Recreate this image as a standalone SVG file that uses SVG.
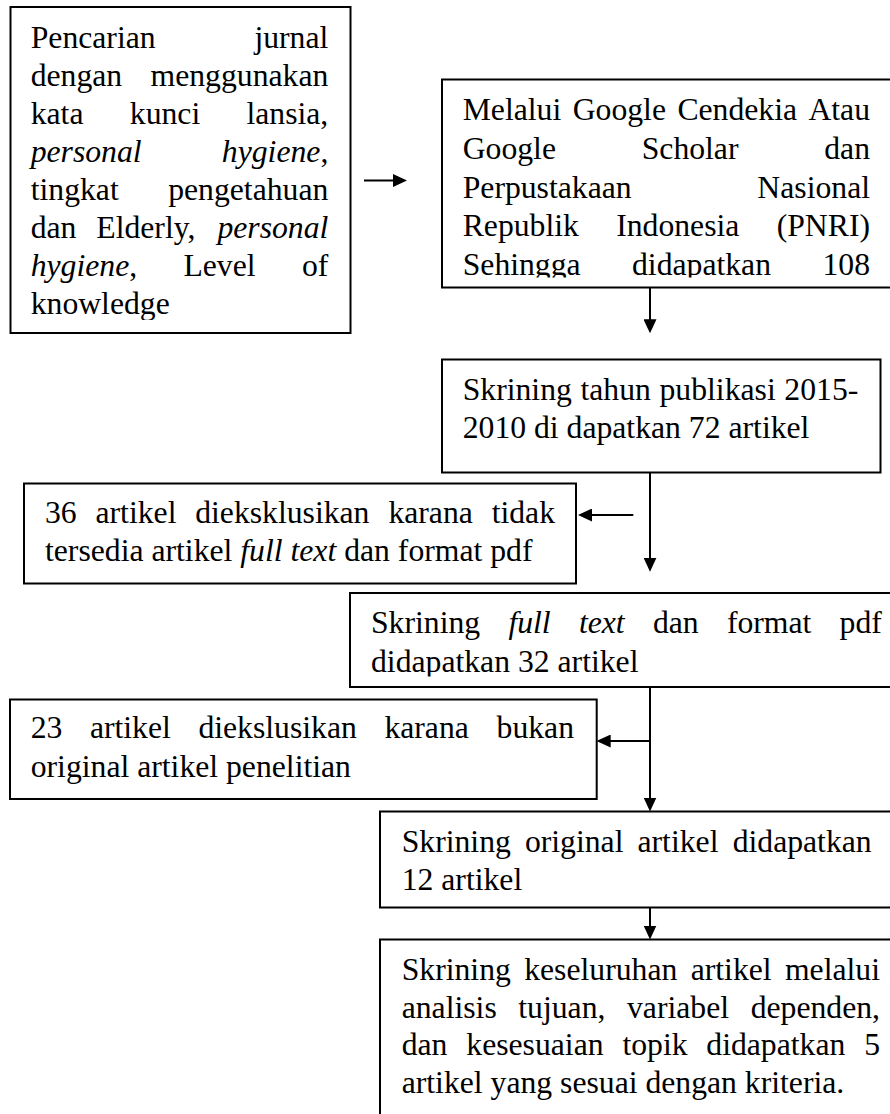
<svg xmlns="http://www.w3.org/2000/svg" width="890" height="1114" viewBox="0 0 890 1114">
<style>
.box{fill:#fff;stroke:#000;stroke-width:2}
text{font-family:"Liberation Serif","Times New Roman",serif;font-size:31.7px;fill:#000}
.r{text-anchor:end}
.i{font-style:italic}
.ln{stroke:#000;stroke-width:2;fill:none}
</style>
<defs>
<marker id="ah" markerUnits="userSpaceOnUse" markerWidth="14" markerHeight="13" refX="11" refY="6.5" orient="auto"><path d="M0,0L14,6.5L0,13z" fill="#000"/></marker>
<clipPath id="c1"><rect x="0" y="0" width="890" height="320"/></clipPath>
<clipPath id="c2"><rect x="0" y="0" width="890" height="277.5"/></clipPath>
<clipPath id="c4"><rect x="0" y="0" width="890" height="676.5"/></clipPath>
</defs>
<rect width="890" height="1114" fill="#fff"/>

<g id="n1">
<rect class="box" x="10.5" y="7" width="340" height="326"/>
<g clip-path="url(#c1)">
<text x="30.7" y="48.3">Pencarian</text><text class="r" x="328.3" y="48.3">jurnal</text>
<text x="30.7" y="86.2">dengan</text><text class="r" x="328.3" y="86.2">menggunakan</text>
<text x="30.7" y="124.1">kata</text><text x="129.8" y="124.1">kunci</text><text class="r" x="328.3" y="124.1">lansia,</text>
<text class="i" x="30.7" y="162">personal</text><text class="r" x="328.3" y="162"><tspan class="i">hygiene</tspan>,</text>
<text x="30.7" y="199.9">tingkat</text><text class="r" x="328.3" y="199.9">pengetahuan</text>
<text x="30.7" y="237.8">dan</text><text x="96.3" y="237.8">Elderly,</text><text class="r i" x="328.3" y="237.8">personal</text>
<text x="30.7" y="275.7"><tspan class="i">hygiene</tspan>,</text><text x="183.4" y="275.7">Level</text><text class="r" x="328.3" y="275.7">of</text>
<text x="30.7" y="313.6">knowledge</text>
</g>
</g>

<g id="n2">
<rect class="box" x="442" y="79.5" width="460" height="208"/>
<g clip-path="url(#c2)">
<text x="462.7" y="120">Melalui</text><text x="572.7" y="120">Google</text><text x="677.4" y="120">Cendekia</text><text class="r" x="870" y="120">Atau</text>
<text x="462.7" y="158.75">Google</text><text x="641.7" y="158.75">Scholar</text><text class="r" x="870" y="158.75">dan</text>
<text x="462.7" y="197.5">Perpustakaan</text><text class="r" x="870" y="197.5">Nasional</text>
<text x="462.7" y="236.25">Republik</text><text x="616.2" y="236.25">Indonesia</text><text class="r" x="870" y="236.25">(PNRI)</text>
<text x="462.7" y="275">Sehingga</text><text x="632" y="275">didapatkan</text><text class="r" x="870" y="275">108</text>
</g>
</g>

<g id="n3">
<rect class="box" x="442" y="359.5" width="438.5" height="113"/>
<text x="462.7" y="400">Skrining</text><text x="580.5" y="400">tahun</text><text x="659.5" y="400">publikasi</text><text class="r" x="858.3" y="400">2015-</text>
<text x="462.7" y="438.3">2010 di dapatkan 72 artikel</text>
</g>

<g id="n4">
<rect class="box" x="24" y="483.5" width="552" height="100"/>
<text x="45" y="523">36</text><text x="95.5" y="523">artikel</text><text x="195.2" y="523">dieksklusikan</text><text x="388.4" y="523">karana</text><text class="r" x="555" y="523">tidak</text>
<text x="45" y="561">tersedia artikel <tspan class="i">full text</tspan> dan format pdf</text>
</g>

<g id="n5">
<rect class="box" x="350" y="593" width="560" height="94"/>
<g clip-path="url(#c4)">
<text x="371" y="633.3">Skrining</text><text class="i" x="508.4" y="633.3">full</text><text class="i" x="578.9" y="633.3">text</text><text x="652.9" y="633.3">dan</text><text x="726.9" y="633.3">format</text><text class="r" x="881.8" y="633.3">pdf</text>
<text x="371" y="671.7">didapatkan 32 artikel</text>
</g>
</g>

<g id="n6">
<rect class="box" x="10" y="699.5" width="586.7" height="99.5"/>
<text x="30.7" y="738.3">23</text><text x="89.9" y="738.3">artikel</text><text x="198.4" y="738.3">diekslusikan</text><text x="384.4" y="738.3">karana</text><text class="r" x="574" y="738.3">bukan</text>
<text x="30.7" y="776.7">original artikel penelitian</text>
</g>

<g id="n7">
<rect class="box" x="380" y="811.5" width="520" height="96"/>
<text x="401.7" y="851.7">Skrining</text><text x="524.9" y="851.7">original</text><text x="637.5" y="851.7">artikel</text><text class="r" x="871.7" y="851.7">didapatkan</text>
<text x="401.7" y="890">12 artikel</text>
</g>

<g id="n8">
<rect class="box" x="380" y="939.5" width="520" height="200"/>
<text x="401.7" y="980">Skrining</text><text x="524.2" y="980">keseluruhan</text><text x="690.7" y="980">artikel</text><text class="r" x="880" y="980">melalui</text>
<text x="401.7" y="1017.7">analisis</text><text x="518.3" y="1017.7">tujuan,</text><text x="627" y="1017.7">variabel</text><text class="r" x="880" y="1017.7">dependen,</text>
<text x="401.7" y="1055.4">dan</text><text x="466.3" y="1055.4">kesesuaian</text><text x="622.4" y="1055.4">topik</text><text x="706.3" y="1055.4">didapatkan</text><text class="r" x="880" y="1055.4">5</text>
<text x="401.7" y="1093">artikel yang sesuai dengan kriteria.</text>
</g>

<g id="connectors">
<line class="ln" x1="364" y1="180.5" x2="404" y2="180.5" marker-end="url(#ah)"/>
<line class="ln" x1="650" y1="287.5" x2="650" y2="330.3" marker-end="url(#ah)"/>
<line class="ln" x1="650" y1="472.5" x2="650" y2="568.7" marker-end="url(#ah)"/>
<line class="ln" x1="633.3" y1="515" x2="581" y2="515" marker-end="url(#ah)"/>
<line class="ln" x1="650" y1="687" x2="650" y2="808.5" marker-end="url(#ah)"/>
<line class="ln" x1="650" y1="741" x2="599.7" y2="741" marker-end="url(#ah)"/>
<line class="ln" x1="650" y1="907.5" x2="650" y2="936.5" marker-end="url(#ah)"/>
</g>
</svg>
